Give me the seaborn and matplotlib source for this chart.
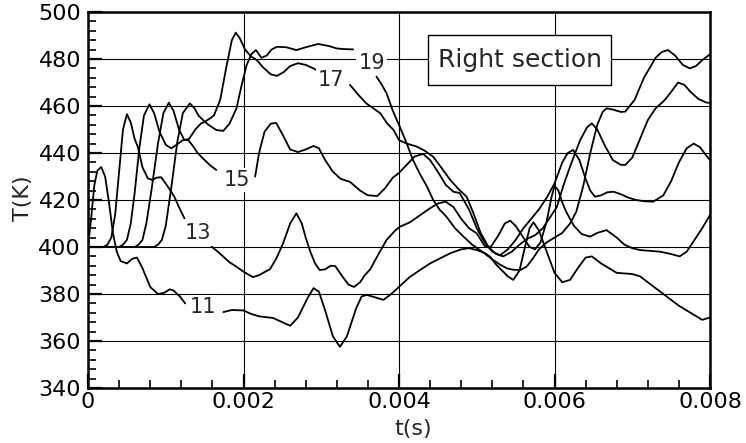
import numpy as np
import pandas as pd
import matplotlib
matplotlib.use("Agg")
import matplotlib.pyplot as plt
import seaborn as sns
from matplotlib.ticker import MultipleLocator, FixedLocator
from matplotlib.patches import Rectangle

# ---------------- data (time in ms, temperature in K) ----------------
c11_left_t = [0, 0.04, 0.08, 0.12, 0.17, 0.22, 0.27, 0.32, 0.37, 0.42, 0.5, 0.57, 0.63, 0.7, 0.75, 0.8, 0.9, 0.98, 1.05, 1.1, 1.18, 1.25]
c11_left_T = [400, 412, 426, 432.5, 434, 430, 419, 406, 398, 394, 393, 395, 395.5, 391, 387, 383, 380, 380.5, 382, 381.5, 379, 376]
c11_right_t = [1.74, 1.85, 2.0, 2.1, 2.2, 2.38, 2.5, 2.6, 2.7, 2.82, 2.9, 2.97, 3.05, 3.15, 3.24, 3.33, 3.45, 3.52, 3.59, 3.7, 3.8, 3.9, 4.0, 4.13, 4.27, 4.4, 4.53, 4.67, 4.8, 4.9, 5.0, 5.1, 5.17, 5.25, 5.34, 5.4, 5.47, 5.55, 5.62, 5.68, 5.73, 5.8, 5.9, 6.0, 6.1, 6.2, 6.3, 6.4, 6.48, 6.6, 6.8, 7.0, 7.1, 7.2, 7.4, 7.6, 7.8, 7.9, 8.0]
c11_right_T = [372.3, 373.2, 373, 371.5, 370.5, 369.8, 368, 366.5, 370, 378, 382.5, 381, 373, 362, 357.5, 362, 374, 379, 379.6, 378.5, 377.5, 380, 383, 387, 390.2, 393, 395.2, 397.5, 399, 399.5, 398.7, 397.5, 395.9, 392.5, 389.5, 387.5, 386, 390, 400, 408, 410.5, 407, 398, 389, 385, 386, 391, 395.5, 396, 393, 389, 388.5, 387.5, 385, 380, 375, 371, 369, 370]

c13_left_t = [0, 0.2, 0.25, 0.3, 0.35, 0.4, 0.45, 0.5, 0.55, 0.6, 0.64, 0.7, 0.77, 0.83, 0.88, 0.94, 1.0, 1.06, 1.11, 1.17, 1.24]
c13_left_T = [400, 400, 401, 404, 414, 432, 450, 456.5, 453, 446, 442.7, 434, 429.2, 428.5, 429.5, 429.7, 427, 424, 421.4, 417, 412.2]
c13_right_t = [1.59, 1.67, 1.74, 1.82, 1.91, 2.0, 2.12, 2.2, 2.28, 2.34, 2.42, 2.51, 2.6, 2.68, 2.75, 2.8, 2.86, 2.92, 2.98, 3.05, 3.12, 3.18, 3.26, 3.35, 3.42, 3.5, 3.56, 3.63, 3.72, 3.84, 3.95, 4.01, 4.14, 4.27, 4.4, 4.5, 4.6, 4.7, 4.8, 4.9, 5.0, 5.1, 5.18, 5.28, 5.36, 5.43, 5.5, 5.6, 5.68, 5.75, 5.82, 5.9, 5.96, 6.0, 6.05, 6.1, 6.15, 6.25, 6.35, 6.46, 6.55, 6.67, 6.8, 6.9, 7.0, 7.1, 7.25, 7.36, 7.5, 7.61, 7.7, 7.8, 7.9, 8.0]
c13_right_T = [400.1, 398, 395.9, 393.5, 391.6, 389.5, 387.2, 388, 389.5, 390.5, 395, 401.6, 410, 414.3, 410, 404, 398, 393, 390.2, 390.5, 392, 391.9, 388, 384, 383, 385, 388, 390.5, 396, 403, 407, 408.6, 410.5, 413.5, 416.5, 418.5, 419.3, 417, 412, 408, 405.8, 400.5, 400, 405, 410, 411.2, 409, 404, 400, 399, 402, 411, 421, 426, 424, 419, 415, 409, 405.5, 404.4, 406, 407.2, 404, 401, 399.5, 398.7, 398.3, 398, 397, 396, 398, 403, 408, 413.6]

c15_left_t = [0, 0.4, 0.45, 0.5, 0.55, 0.6, 0.66, 0.72, 0.79, 0.85, 0.92, 1.0, 1.07, 1.14, 1.22, 1.29, 1.36, 1.41, 1.5, 1.58, 1.65]
c15_left_T = [400, 400, 401, 403, 410, 423, 442, 456, 460.7, 457, 449, 443.5, 442, 443.5, 445.5, 445.5, 442.5, 440, 437, 434.5, 432.8]
c15_right_t = [2.15, 2.2, 2.27, 2.35, 2.42, 2.5, 2.6, 2.7, 2.8, 2.9, 2.97, 3.05, 3.15, 3.25, 3.37, 3.5, 3.6, 3.72, 3.82, 3.92, 4.0, 4.1, 4.2, 4.31, 4.4, 4.5, 4.6, 4.7, 4.78, 4.9, 5.0, 5.1, 5.2, 5.3, 5.4, 5.5, 5.6, 5.7, 5.8, 5.9, 6.0, 6.1, 6.17, 6.24, 6.32, 6.4, 6.46, 6.52, 6.6, 6.68, 6.76, 6.85, 6.95, 7.05, 7.15, 7.27, 7.4, 7.5, 7.6, 7.7, 7.79, 7.87, 7.95, 8.0]
c15_right_T = [430, 440, 449, 452.5, 452.8, 448, 441.5, 440.4, 441.5, 443, 442, 437, 432, 429, 427.7, 424, 422, 421.7, 425, 429.5, 431.5, 435, 438.5, 439.6, 437, 432, 426.5, 423.5, 423, 416, 408, 402, 398, 396.5, 399, 403, 408, 412, 416, 421, 427, 436, 440, 441.3, 437, 429, 424, 421.4, 422, 423.3, 423.5, 422.5, 421, 420, 419.5, 419.3, 422, 428, 436, 442, 444, 442.5, 439, 437]

c17_left_t = [0, 0.6, 0.65, 0.7, 0.75, 0.82, 0.9, 0.97, 1.04, 1.1, 1.17, 1.24, 1.3, 1.38, 1.45, 1.5, 1.56, 1.62, 1.7, 1.78, 1.85, 1.9, 1.95, 2.02, 2.1, 2.17, 2.25, 2.35, 2.43, 2.52, 2.6, 2.7, 2.8, 2.9, 2.95]
c17_left_T = [400, 400, 401, 403, 410, 425, 444, 457, 461.4, 458, 450, 445.5, 446, 450, 452.5, 453.3, 454.5, 456, 462.6, 476.7, 488, 491.2, 489, 484, 481, 479.6, 476.5, 473.5, 472.8, 474.5, 477, 478.2, 477.5, 476, 475]
c17_right_t = [3.37, 3.47, 3.58, 3.67, 3.76, 3.85, 3.93, 4.0, 4.1, 4.23, 4.33, 4.44, 4.55, 4.66, 4.77, 4.87, 4.95, 5.05, 5.15, 5.25, 5.34, 5.45, 5.55, 5.65, 5.75, 5.85, 5.95, 6.03, 6.11, 6.2, 6.33, 6.42, 6.48, 6.55, 6.65, 6.75, 6.85, 6.91, 7.0, 7.1, 7.2, 7.3, 7.42, 7.5, 7.59, 7.67, 7.75, 7.85, 7.95, 8.0]
c17_right_T = [469, 465, 461.1, 459, 456.9, 452.5, 449.8, 445.5, 444, 442.7, 441, 438.4, 433.5, 428.5, 424.5, 421.4, 415, 406, 400, 397, 396, 398, 401, 403.5, 405, 408, 413, 417, 425.7, 434.2, 445.5, 451, 452.6, 450, 443, 437, 435, 434.9, 438, 446, 454, 459, 462.6, 466, 470, 469, 466, 463, 461.5, 461.3]

c19_left_t = [0, 0.85, 0.9, 0.95, 1.0, 1.07, 1.15, 1.22, 1.31, 1.37, 1.42, 1.48, 1.55, 1.65, 1.74, 1.82, 1.91, 1.97, 2.04, 2.1, 2.16, 2.23, 2.3, 2.36, 2.43, 2.55, 2.68, 2.8, 2.96, 3.1, 3.2, 3.3, 3.41]
c19_left_T = [400, 400, 401, 403, 409, 425, 445, 457, 461.1, 459, 456, 454, 452, 449.8, 449.4, 452.5, 459, 468, 477.4, 482, 483.8, 480.5, 481.5, 484, 485.2, 485, 483.8, 485, 486.4, 485.5, 484.5, 484.2, 484.1]
c19_right_t = [3.71, 3.78, 3.84, 3.92, 4.01, 4.1, 4.18, 4.27, 4.36, 4.44, 4.52, 4.61, 4.72, 4.83, 4.94, 5.04, 5.13, 5.21, 5.3, 5.39, 5.47, 5.56, 5.64, 5.72, 5.8, 5.9, 6.0, 6.1, 6.2, 6.28, 6.37, 6.46, 6.55, 6.62, 6.67, 6.75, 6.85, 6.91, 7.03, 7.15, 7.3, 7.38, 7.46, 7.55, 7.65, 7.74, 7.82, 7.9, 8.0]
c19_right_T = [472.5, 469, 465.4, 458, 451.2, 444, 437, 431, 425.7, 420, 416, 412.9, 408, 404.4, 401, 398.7, 396.5, 394.5, 392.5, 390.9, 390.3, 390.2, 391.6, 395, 399, 402, 404, 406, 410, 415, 426, 440, 452, 457.5, 459, 458.5, 457.5, 457.6, 462.6, 472, 480.5, 483, 483.8, 481.5, 477.5, 476, 477, 479.5, 482]

curve_labels = ["11", "13", "15", "17", "19"]
label_t = [1.48, 1.42, 1.91, 3.13, 3.65]
label_T = [374.6, 405.8, 428.5, 471.0, 478.2]

x_ticks = [0, 0.002, 0.004, 0.006, 0.008]
x_tick_labels = ["0", "0.002", "0.004", "0.006", "0.008"]
y_ticks = [340, 360, 380, 400, 420, 440, 460, 480, 500]
box_text = "Right section"

# ---------------- build table ----------------
segments = {
    "11a": (c11_left_t, c11_left_T), "11b": (c11_right_t, c11_right_T),
    "13a": (c13_left_t, c13_left_T), "13b": (c13_right_t, c13_right_T),
    "15a": (c15_left_t, c15_left_T), "15b": (c15_right_t, c15_right_T),
    "17a": (c17_left_t, c17_left_T), "17b": (c17_right_t, c17_right_T),
    "19a": (c19_left_t, c19_left_T), "19b": (c19_right_t, c19_right_T),
}
frames = []
for seg, (tt, TT) in segments.items():
    frames.append(pd.DataFrame({"t": np.asarray(tt) * 1e-3, "T": TT, "seg": seg}))
df = pd.concat(frames, ignore_index=True)

# ---------------- plot ----------------
sns.set_theme(style="white")
plt.rcParams["font.family"] = ["DejaVu Sans"]

W, H = 746, 443
fig = plt.figure(figsize=(W / 100, H / 100), dpi=100)
ax = fig.add_axes([88 / W, 1 - 388 / H, 622 / W, 376 / H])

sns.lineplot(data=df, x="t", y="T", units="seg", estimator=None, sort=False,
             color="black", linewidth=1.3, ax=ax, legend=False, zorder=3)

ax.set_xlim(0, 0.008)
ax.set_ylim(340, 500)
ax.xaxis.set_major_locator(FixedLocator(x_ticks))
ax.set_xticklabels(x_tick_labels)
ax.xaxis.set_minor_locator(MultipleLocator(0.0004))
ax.yaxis.set_major_locator(FixedLocator(y_ticks))
ax.set_yticklabels([str(v) for v in y_ticks])
ax.yaxis.set_minor_locator(MultipleLocator(4))

ax.tick_params(which="both", direction="in", top=False, right=False, bottom=True, left=True, colors="black")
ax.tick_params(which="major", length=10, width=1.6, labelsize=16)
ax.tick_params(axis="x", which="major", pad=3)
ax.tick_params(axis="y", which="major", pad=5)
ax.tick_params(which="minor", length=6, width=1.2)

ax.grid(True, which="major", color="black", linewidth=0.8)
ax.set_axisbelow(True)
for s in ax.spines.values():
    s.set_color("black")
    s.set_linewidth(1.8)

ax.set_xlabel("t(s)", fontsize=16)
ax.set_ylabel("T(K)", fontsize=16)
ax.xaxis.set_label_coords((413 - 88) / 622, (388 - 419) / 376)
ax.yaxis.set_label_coords((33 - 88) / 622, (388 - 198) / 376)

for lab, tx, ty in zip(curve_labels, label_t, label_T):
    ax.text(tx * 1e-3, ty, lab, ha="center", va="center", fontsize=15, zorder=6,
            bbox=dict(boxstyle="square,pad=0.1", fc="white", ec="none"))

ax.add_patch(Rectangle((0.00437, 468.9), 0.00236, 21.3, facecolor="white",
                       edgecolor="black", linewidth=1.0, zorder=5))
ax.text(0.00555, 479.6, box_text, ha="center", va="center", fontsize=18, zorder=6)

fig.savefig("out.png", dpi=100)
